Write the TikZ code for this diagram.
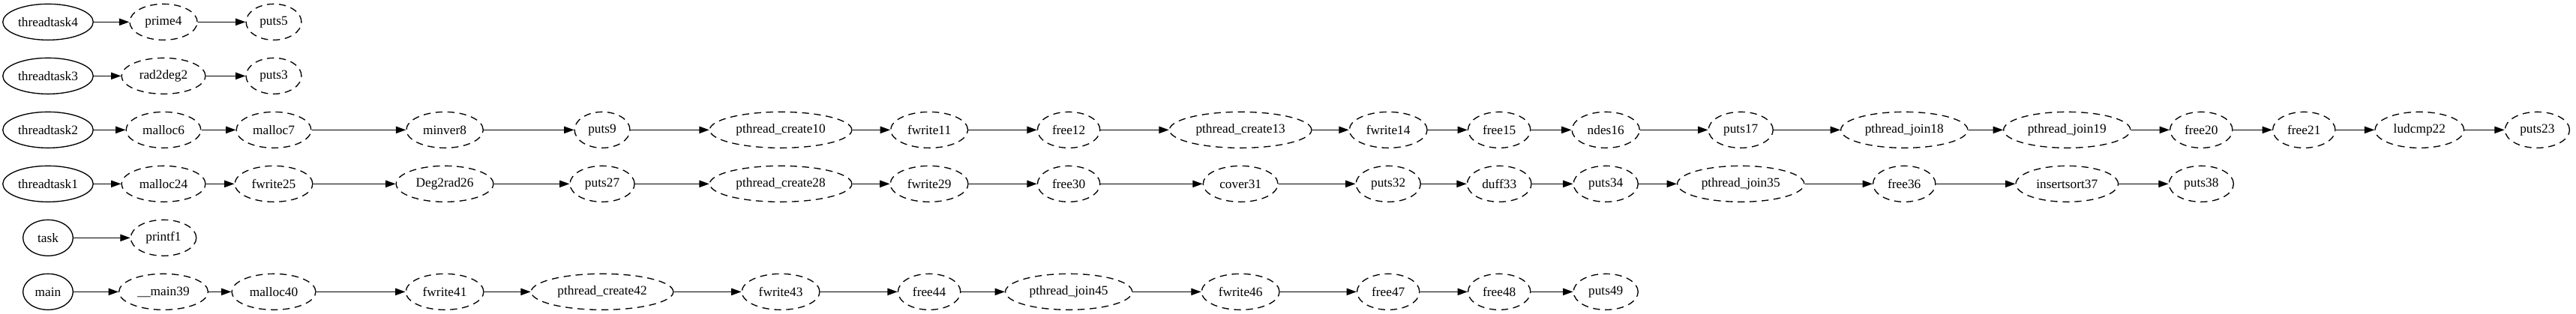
\documentclass[tikz,border=0pt]{standalone}
\usepackage{fontspec}
\setmainfont{Liberation Serif}
\usetikzlibrary{arrows.meta,shapes.geometric}

\begin{document}
\begin{tikzpicture}[
  x=1pt, y=1pt, >={Triangle[length=10pt,width=7pt]},
  font=\fontsize{13}{15}\selectfont,
  entry/.style={draw,ellipse,line width=1pt,minimum width=50pt,minimum height=36pt,
                inner xsep=2pt,inner ysep=2pt},
  call/.style={entry,inner xsep=5.5pt,dash pattern=on 7pt off 5pt},
  edge/.style={->,line width=1pt}
]
\useasboundingbox (0,0) rectangle (2576,-314);

% threadtask4
\node[entry] (threadtask4) at (48,-22) {threadtask4};
\node[call] (prime4) at (163.5,-22) {prime4};
\node[call] (puts5) at (273.75,-22) {puts5};

% threadtask3
\node[entry] (threadtask3) at (48,-76) {threadtask3};
\node[call] (rad2deg2) at (163.5,-76) {rad2deg2};
\node[call] (puts3) at (273.75,-76) {puts3};

% threadtask2
\node[entry] (threadtask2) at (48,-130) {threadtask2};
\node[call] (malloc6) at (163.5,-130) {malloc6};
\node[call] (malloc7) at (273.75,-130) {malloc7};
\node[call] (minver8) at (444.75,-130) {minver8};
\node[call] (puts9) at (602.25,-130) {puts9};
\node[call] (pcreate10) at (780.75,-130) {pthread\_create10};
\node[call] (fwrite11) at (929.25,-130) {fwrite11};
\node[call] (free12) at (1068.75,-130) {free12};
\node[call] (pcreate13) at (1240.5,-130) {pthread\_create13};
\node[call] (fwrite14) at (1388.25,-130) {fwrite14};
\node[call] (free15) at (1499.25,-130) {free15};
\node[call] (ndes16) at (1605.75,-130) {ndes16};
\node[call] (puts17) at (1740.75,-130) {puts17};
\node[call] (pjoin18) at (1904.25,-130) {pthread\_join18};
\node[call] (pjoin19) at (2067,-130) {pthread\_join19};
\node[call] (free20) at (2201.25,-130) {free20};
\node[call] (free21) at (2304,-130) {free21};
\node[call] (ludcmp22) at (2419.5,-130) {ludcmp22};
\node[call] (puts23) at (2537.25,-130) {puts23};

% threadtask1
\node[entry] (threadtask1) at (48,-184) {threadtask1};
\node[call] (malloc24) at (163.5,-184) {malloc24};
\node[call] (fwrite25) at (273.75,-184) {fwrite25};
\node[call] (deg2rad26) at (444.75,-184) {Deg2rad26};
\node[call] (puts27) at (602.25,-184) {puts27};
\node[call] (pcreate28) at (780.75,-184) {pthread\_create28};
\node[call] (fwrite29) at (929.25,-184) {fwrite29};
\node[call] (free30) at (1068.75,-184) {free30};
\node[call] (cover31) at (1240.5,-184) {cover31};
\node[call] (puts32) at (1388.25,-184) {puts32};
\node[call] (duff33) at (1499.25,-184) {duff33};
\node[call] (puts34) at (1605.75,-184) {puts34};
\node[call] (pjoin35) at (1740.75,-184) {pthread\_join35};
\node[call] (free36) at (1904.25,-184) {free36};
\node[call] (insertsort37) at (2067,-184) {insertsort37};
\node[call] (puts38) at (2201.25,-184) {puts38};

% task
\node[entry] (task) at (48,-238) {task};
\node[call] (printf1) at (163.5,-238) {printf1};

% main
\node[entry] (main) at (48,-292) {main};
\node[call] (main39) at (163.5,-292) {\_\_main39};
\node[call] (malloc40) at (273.75,-292) {malloc40};
\node[call] (fwrite41) at (444.75,-292) {fwrite41};
\node[call] (pcreate42) at (602.25,-292) {pthread\_create42};
\node[call] (fwrite43) at (780.75,-292) {fwrite43};
\node[call] (free44) at (929.25,-292) {free44};
\node[call] (pjoin45) at (1068.75,-292) {pthread\_join45};
\node[call] (fwrite46) at (1240.5,-292) {fwrite46};
\node[call] (free47) at (1388.25,-292) {free47};
\node[call] (free48) at (1499.25,-292) {free48};
\node[call] (puts49) at (1605.75,-292) {puts49};

% Connections
\draw[edge] (threadtask4) -- (prime4);
\draw[edge] (prime4) -- (puts5);

\draw[edge] (threadtask3) -- (rad2deg2);
\draw[edge] (rad2deg2) -- (puts3);

\draw[edge] (threadtask2) -- (malloc6);
\draw[edge] (malloc6) -- (malloc7);
\draw[edge] (malloc7) -- (minver8);
\draw[edge] (minver8) -- (puts9);
\draw[edge] (puts9) -- (pcreate10);
\draw[edge] (pcreate10) -- (fwrite11);
\draw[edge] (fwrite11) -- (free12);
\draw[edge] (free12) -- (pcreate13);
\draw[edge] (pcreate13) -- (fwrite14);
\draw[edge] (fwrite14) -- (free15);
\draw[edge] (free15) -- (ndes16);
\draw[edge] (ndes16) -- (puts17);
\draw[edge] (puts17) -- (pjoin18);
\draw[edge] (pjoin18) -- (pjoin19);
\draw[edge] (pjoin19) -- (free20);
\draw[edge] (free20) -- (free21);
\draw[edge] (free21) -- (ludcmp22);
\draw[edge] (ludcmp22) -- (puts23);

\draw[edge] (threadtask1) -- (malloc24);
\draw[edge] (malloc24) -- (fwrite25);
\draw[edge] (fwrite25) -- (deg2rad26);
\draw[edge] (deg2rad26) -- (puts27);
\draw[edge] (puts27) -- (pcreate28);
\draw[edge] (pcreate28) -- (fwrite29);
\draw[edge] (fwrite29) -- (free30);
\draw[edge] (free30) -- (cover31);
\draw[edge] (cover31) -- (puts32);
\draw[edge] (puts32) -- (duff33);
\draw[edge] (duff33) -- (puts34);
\draw[edge] (puts34) -- (pjoin35);
\draw[edge] (pjoin35) -- (free36);
\draw[edge] (free36) -- (insertsort37);
\draw[edge] (insertsort37) -- (puts38);

\draw[edge] (task) -- (printf1);

\draw[edge] (main) -- (main39);
\draw[edge] (main39) -- (malloc40);
\draw[edge] (malloc40) -- (fwrite41);
\draw[edge] (fwrite41) -- (pcreate42);
\draw[edge] (pcreate42) -- (fwrite43);
\draw[edge] (fwrite43) -- (free44);
\draw[edge] (free44) -- (pjoin45);
\draw[edge] (pjoin45) -- (fwrite46);
\draw[edge] (fwrite46) -- (free47);
\draw[edge] (free47) -- (free48);
\draw[edge] (free48) -- (puts49);
\end{tikzpicture}
\end{document}
